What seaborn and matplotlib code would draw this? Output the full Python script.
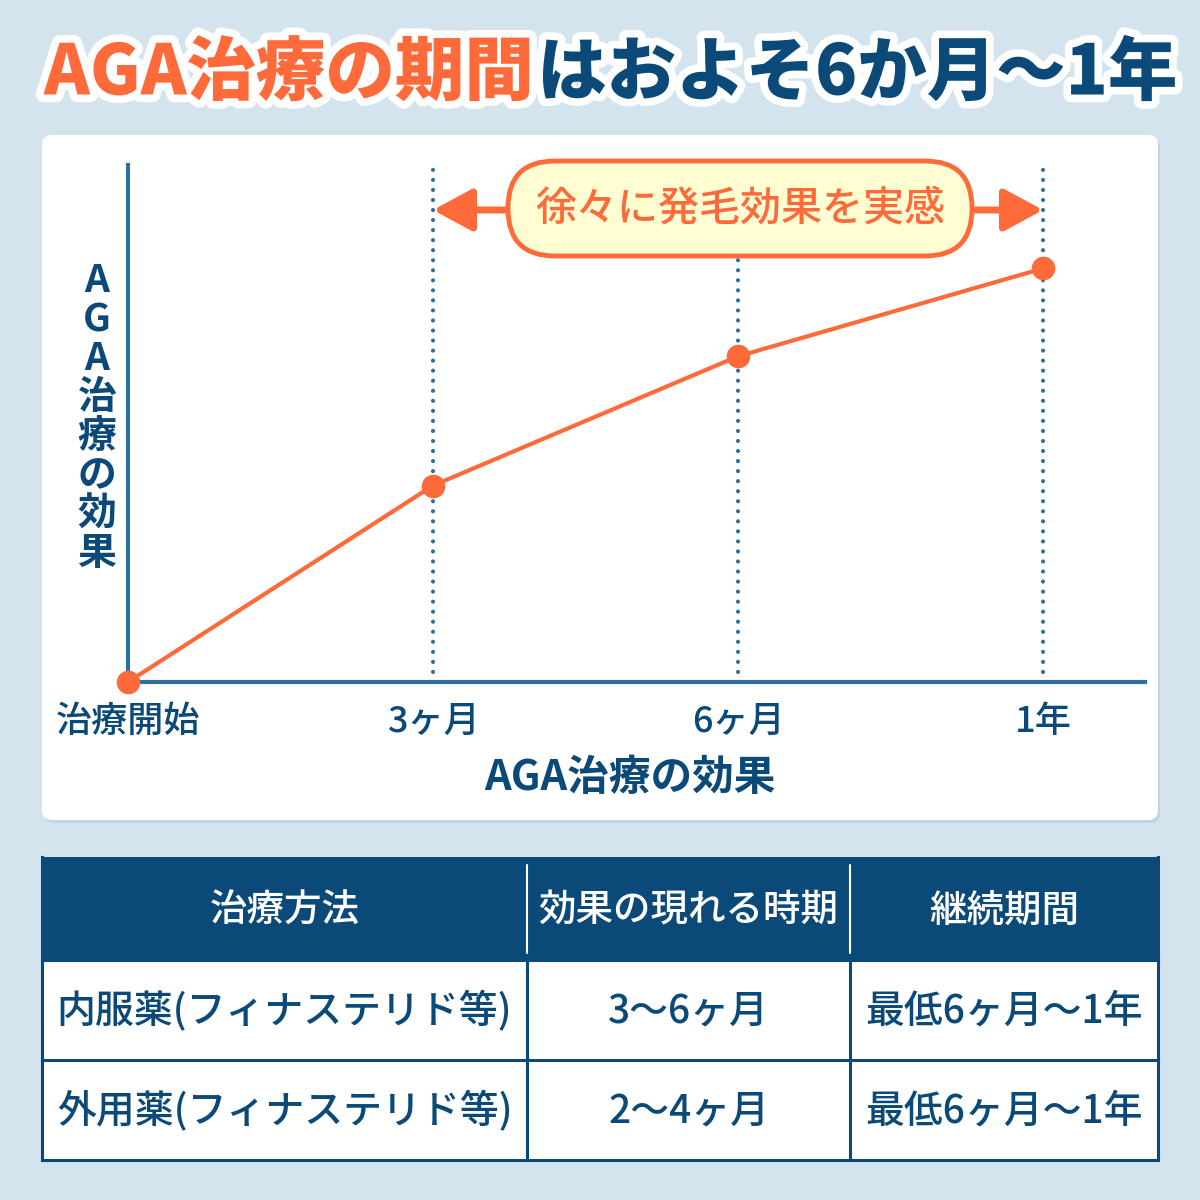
import matplotlib
matplotlib.use("Agg")
import matplotlib.pyplot as plt
import matplotlib.patheffects as pe
from matplotlib.patches import FancyBboxPatch, Rectangle
import seaborn as sns
import pandas as pd

# ---------------- data ----------------
periods = ["治療開始", "3ヶ月", "6ヶ月", "1年"]
effect = [0, 38, 63, 80]
title_accent = "AGA治療の期間"
title_rest = "はおよそ6か月～1年"
x_label = "AGA治療の効果"
y_label = "AGA治療の効果"
banner = "徐々に発毛効果を実感"
table_header = ["治療方法", "効果の現れる時期", "継続期間"]
row_oral = ["内服薬(フィナステリド等)", "3～6ヶ月", "最低6ヶ月～1年"]
row_topical = ["外用薬(フィナステリド等)", "2～4ヶ月", "最低6ヶ月～1年"]

# ---------------- style ----------------
sns.set_theme(style="white")
plt.rcParams["font.family"] = ["Noto Sans CJK JP", "DejaVu Sans"]

BG = "#d3e4ee"
NAVY = "#0b4a78"
ORANGE = "#ff6a3a"
AXIS = "#2f6f9f"
BANNER_FILL = "#fffdd2"

fig = plt.figure(figsize=(12, 12), dpi=100)
fig.patch.set_facecolor(BG)

# background / pixel-space axes
bg = fig.add_axes([0, 0, 1, 1], zorder=0)
bg.set_xlim(0, 1200)
bg.set_ylim(1200, 0)
bg.axis("off")

# card
bg.add_patch(FancyBboxPatch((44, 138), 1116, 685, boxstyle="round,pad=0,rounding_size=10",
                            fc="#bfd5e3", ec="none"))
bg.add_patch(FancyBboxPatch((42, 135), 1116, 685, boxstyle="round,pad=0,rounding_size=10",
                            fc="white", ec="none"))

# ---------------- main chart ----------------
L, R, T, B = 128, 1145, 165, 682
ax = fig.add_axes([L / 1200, 1 - B / 1200, (R - L) / 1200, (B - T) / 1200], zorder=1)
ax.set_facecolor("none")
step = 305.0
ax.set_xlim(0, (R - L) / step)
ax.set_ylim(0, 100)

df = pd.DataFrame({"pos": list(range(len(periods))), "effect": effect})
ax.vlines(df["pos"][1:], 0, 100, colors=AXIS, linewidth=3,
          linestyles=[(0, (0.01, 2.4))], capstyle="round", zorder=2)
sns.lineplot(data=df, x="pos", y="effect", ax=ax, color=ORANGE, linewidth=3,
             marker="o", markersize=17, markeredgewidth=0, clip_on=False, zorder=5)

for s in ["top", "right"]:
    ax.spines[s].set_visible(False)
for s in ["left", "bottom"]:
    ax.spines[s].set_color(AXIS)
    ax.spines[s].set_linewidth(3)
ax.set_yticks([])
ax.set_xticks(df["pos"], periods)
ax.tick_params(axis="x", length=0, pad=16, labelsize=26, labelcolor=NAVY)
for lab in ax.get_xticklabels():
    lab.set_fontweight("medium")

ax.set_xlabel(x_label, fontsize=30, fontweight="bold", color=NAVY, va="center")
ax.xaxis.set_label_coords((630 - L) / (R - L), -(778 - B) / (B - T))
ax.set_ylabel("\n".join(y_label), rotation=0, fontsize=28, fontweight="bold",
              color=NAVY, va="center", ha="center", linespacing=1.0)
ax.yaxis.set_label_coords((97 - L) / (R - L), (B - 417) / (B - T))

# banner arrows
y_arrow = (B - 210) / (B - T) * 100
bx0, bx1 = 508, 972
for tip, start in [(1, (bx0 + 10 - L) / step), (3, (bx1 - 10 - L) / step)]:
    ax.annotate("", xy=(tip, y_arrow), xytext=(start, y_arrow),
                arrowprops=dict(arrowstyle="-|>,head_length=1.2,head_width=0.65",
                                lw=5, color=ORANGE, shrinkA=0, shrinkB=0,
                                mutation_scale=20), annotation_clip=False)

# overlay (pixel space) for banner
ov = fig.add_axes([0, 0, 1, 1], zorder=2)
ov.set_xlim(0, 1200)
ov.set_ylim(1200, 0)
ov.axis("off")
ov.add_patch(FancyBboxPatch((bx0, 161), bx1 - bx0, 95, boxstyle="round,pad=0,rounding_size=47",
                            fc=BANNER_FILL, ec=ORANGE, lw=3.5))
ov.text((bx0 + bx1) / 2, 209, banner, ha="center", va="center", fontsize=29.5,
        color=ORANGE, fontweight="medium")

# ---------------- title ----------------
stroke = [pe.withStroke(linewidth=11, foreground="white")]
t1 = ov.text(44, 74, title_accent, ha="left", va="center", fontsize=50, fontweight="black",
             color=ORANGE, path_effects=stroke)
fig.canvas.draw()
bb = t1.get_window_extent(fig.canvas.get_renderer())
ov.text(bb.x1 + 3, 74, title_rest, ha="left", va="center", fontsize=50, fontweight="black",
        color=NAVY, path_effects=stroke)

# ---------------- table ----------------
tx0, tx1 = 42, 1158
row_edges = [857, 960, 1060, 1160]
col_edges = [42, 527, 850, 1158]
bg.add_patch(Rectangle((tx0, row_edges[0]), tx1 - tx0, row_edges[1] - row_edges[0],
                       fc=NAVY, ec="none"))
bg.add_patch(Rectangle((tx0, row_edges[1]), tx1 - tx0, row_edges[3] - row_edges[1],
                       fc="white", ec="none"))
lw_t = 2.2
for y in row_edges[1:]:
    bg.plot([tx0, tx1], [y, y], color=NAVY, lw=lw_t, solid_capstyle="projecting")
for x in [tx0, tx1]:
    bg.plot([x, x], [row_edges[0], row_edges[3]], color=NAVY, lw=lw_t, solid_capstyle="projecting")
for x in col_edges[1:-1]:
    bg.plot([x, x], [row_edges[1], row_edges[3]], color=NAVY, lw=lw_t)
    bg.plot([x, x], [865, 953], color="white", lw=1.5)

rows = [table_header, row_oral, row_topical]
for r, cells in enumerate(rows):
    yc = (row_edges[r] + row_edges[r + 1]) / 2 + 2
    for c, txt in enumerate(cells):
        xc = (col_edges[c] + col_edges[c + 1]) / 2
        bg.text(xc, yc, txt, ha="center", va="center", fontsize=27 if r == 0 else 28,
                color="white" if r == 0 else NAVY, fontweight="medium")

fig.savefig("out.png", dpi=100, facecolor=BG)
